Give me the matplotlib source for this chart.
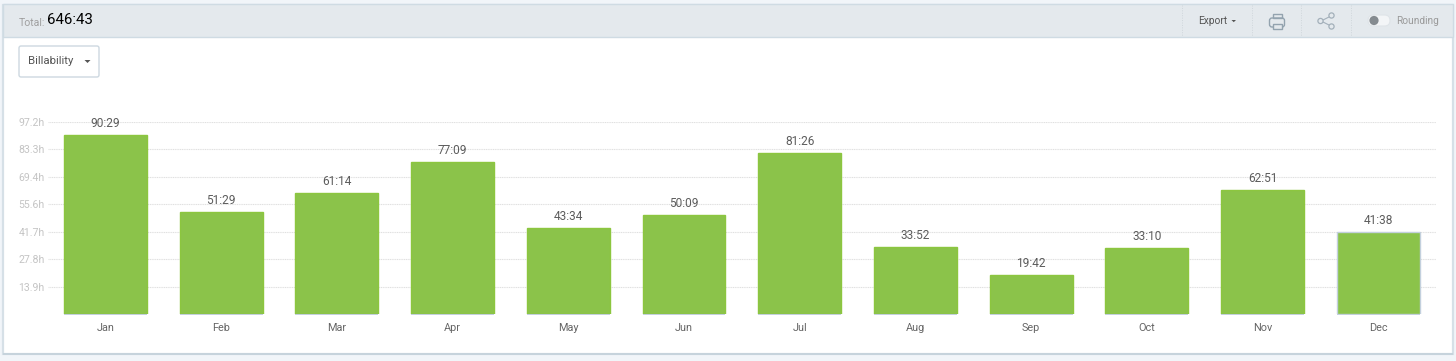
import matplotlib as mpl
mpl.use('Agg')
import matplotlib.pyplot as plt
from matplotlib.patches import Rectangle, FancyBboxPatch, Circle, Polygon

plt.rcParams['font.family'] = ['Roboto', 'DejaVu Sans']

months = ['Jan', 'Feb', 'Mar', 'Apr', 'May', 'Jun', 'Jul', 'Aug', 'Sep', 'Oct', 'Nov', 'Dec']
durations = ['90:29', '51:29', '61:14', '77:09', '43:34', '50:09', '81:26', '33:52', '19:42', '33:10', '62:51', '41:38']
y_ticks = [13.9, 27.8, 41.7, 55.6, 69.4, 83.3, 97.2]
total = '646:43'

hours = [int(d.split(':')[0]) + int(d.split(':')[1]) / 60 for d in durations]

W, H = 1456, 361
fig = plt.figure(figsize=(W / 100, H / 100), dpi=100, facecolor='#f1f5f9')

# page chrome, in pixels
bg = fig.add_axes([0, 0, 1, 1], zorder=0)
bg.set_xlim(0, W)
bg.set_ylim(H, 0)
bg.axis('off')

bg.add_patch(Rectangle((2.5, 5), 1450, 349, fc='white', ec='#d6e0e7', lw=1.6))
bg.add_patch(Rectangle((3, 353), 1450, 2.2, fc='#c6d3dc', ec='none'))
bg.add_patch(Rectangle((2.5, 4), 1450, 33, fc='#e4e9ed', ec='#cfdbe3', lw=1))

bg.text(19, 22.5, 'Total:', fontsize=7.6, color='#a0a0a0', va='center')
bg.text(47, 20, total, fontsize=10.8, color='#000000', va='center')

for x in [1182, 1252, 1301, 1351]:
    bg.plot([x, x], [5, 36], color='#cfd6db', lw=0.7, ls=(0, (1, 1.5)))

bg.text(1198, 20.5, 'Export', fontsize=7.3, color='#555555', va='center')
bg.add_patch(Polygon([[1231.5, 20], [1236, 20], [1233.75, 22.2]], fc='#555555', ec='none'))

# printer icon
icon = '#93a3af'
bg.add_patch(FancyBboxPatch((1269.5, 18), 15, 9, boxstyle='round,pad=0,rounding_size=2.5', fc='none', ec=icon, lw=1))
bg.add_patch(Rectangle((1272.5, 13.5), 9, 4.5, fc='none', ec=icon, lw=1))
bg.add_patch(Rectangle((1272.5, 24), 9, 5, fc='#e4e9ed', ec=icon, lw=1))

# share icon
share = '#a3b0ba'
bg.plot([1321, 1332], [21, 15.5], color=share, lw=0.8)
bg.plot([1321, 1332], [21, 26.5], color=share, lw=0.8)
for cx, cy in [(1320.5, 21), (1331.5, 15.5), (1331.5, 26.5)]:
    bg.add_patch(Circle((cx, cy), 2.6, fc='#e4e9ed', ec=share, lw=0.9, zorder=3))

# rounding toggle
bg.add_patch(FancyBboxPatch((1368, 15), 22, 11, boxstyle='round,pad=0,rounding_size=5.5', fc='#f3f5f7', ec='#dfe4e8', lw=0.8))
bg.add_patch(Circle((1374, 20.5), 4.6, fc='#858b90', ec='none'))
bg.text(1396, 21, 'Rounding', fontsize=7.3, color='#9a9a9a', va='center')

# dropdown
bg.add_patch(FancyBboxPatch((19, 46), 80, 31, boxstyle='round,pad=0,rounding_size=2', fc='white', ec='#cdd8e0', lw=1))
bg.text(28, 61.5, 'Billability', fontsize=8.2, color='#555555', va='center')
bg.add_patch(Polygon([[84.5, 60], [90.5, 60], [87.5, 63]], fc='#555555', ec='none'))

# chart
left, right, top, bottom = 47.65, 1436, 122, 314
ax = fig.add_axes([left / W, 1 - bottom / H, (right - left) / W, (bottom - top) / H], zorder=1)
ax.patch.set_alpha(0)
x = range(len(months))
edges = ['#8cc63f'] * 11 + ['#c3d0dd']
ax.bar(x, hours, width=0.717, color='#8bc34a', edgecolor=edges, linewidth=1, zorder=2)
ax.bar(x, [-0.7] * 12, width=0.717, color='#c3d0dd', linewidth=0, clip_on=False, zorder=2)

for i, d in enumerate(durations):
    ax.annotate(d, (i, hours[i]), xytext=(0, 3.6), textcoords='offset points',
                ha='center', va='bottom', fontsize=8.6, color='#5c5c5c', zorder=3)

ax.set_xlim(-0.5, 11.5)
ax.set_ylim(0, 97.2)
ax.set_yticks(y_ticks)
ax.set_yticklabels(['%.1fh' % v for v in y_ticks], fontsize=7.6, color='#c4c4c4')
ax.set_xticks(list(x))
ax.set_xticklabels(months, fontsize=7.8, color='#666666')
ax.tick_params(axis='both', length=0)
ax.tick_params(axis='x', pad=6.4)
ax.tick_params(axis='y', pad=2)
ax.grid(axis='y', color='#e0e0e0', lw=0.8, ls=(0, (1, 0.6)), zorder=1)
for s in ax.spines.values():
    s.set_visible(False)

fig.savefig('out.png', dpi=100, facecolor=fig.get_facecolor())
